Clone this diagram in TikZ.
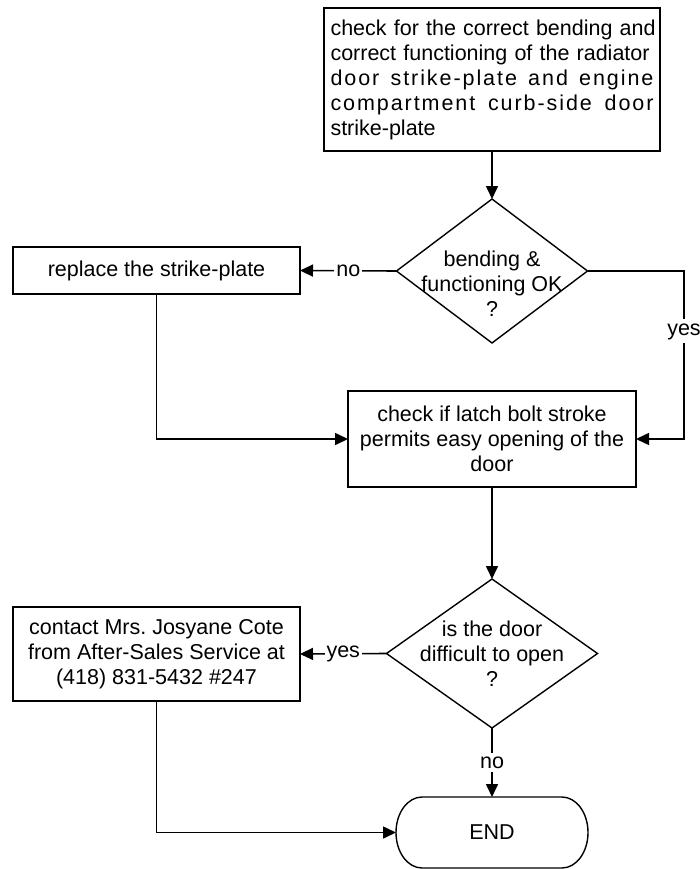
\documentclass[tikz,border=0pt]{standalone}
\usepackage{fontspec}
\setmainfont{Liberation Sans}
\usetikzlibrary{shapes.geometric,arrows.meta}
\frenchspacing

\begin{document}
\begin{tikzpicture}[x=1pt,y=-1pt,
  box/.style={draw, line width=1.8pt, inner sep=0pt, outer sep=0pt, align=center, font=\fontsize{21.5}{25}\selectfont},
  dia/.style={draw, diamond, line width=1.4pt, inner sep=0pt, outer sep=0pt},
  txt/.style={font=\fontsize{21.5}{25}\selectfont, align=center},
  conn/.style={line width=1.6pt},
  arr/.style={conn, -{Triangle[length=13pt,width=12pt]}},
  lbl/.style={font=\fontsize{21.5}{25}\selectfont, fill=white, inner xsep=2pt, inner ysep=4pt}
]
\useasboundingbox (0,0) rectangle (699,869);

\node[box, minimum width=336pt, minimum height=143pt, text width=323pt, align=left] (top) at (492,79.5)
  {\makebox[323pt][s]{check for the correct bending and}\\
   \makebox[323pt][s]{correct functioning of the radiator}\\
   \makebox[323pt][l]{\addfontfeature{LetterSpace=9}door\hfill strike-plate\hfill and\hfill engine}\\
   \makebox[323pt][l]{\addfontfeature{LetterSpace=9}compartment\hfill curb-side\hfill door}\\
   strike-plate};

\node[dia, minimum width=191pt, minimum height=144pt] (d1) at (492,271) {};
\node[txt] (d1t) at (492,284) {bending \&\\functioning OK\\?};

\node[box, minimum width=287pt, minimum height=47pt] (r1) at (156.5,270.5) {replace the strike-plate};

\node[box, minimum width=288pt, minimum height=96pt] (b2) at (492,439)
  {check if latch bolt stroke\\permits easy opening of the\\door};

\node[dia, minimum width=211pt, minimum height=149pt] (d2) at (492,653.5) {};
\node[txt] (d2t) at (492,653.5) {is the door\\difficult to open\\?};

\node[box, minimum width=287pt, minimum height=94pt] (ct) at (156.5,654)
  {contact Mrs. Josyane Cote\\from After-Sales Service at\\(418) 831-5432 \#247};

\node[txt, minimum width=192pt, minimum height=71pt, inner sep=0pt, outer sep=0pt] (end) at (492,832.5) {END};
\draw[line width=1.4pt] ([xshift=26pt]end.north west) -- ([xshift=-26pt]end.north east)
  arc[start angle=90, end angle=-90, x radius=26pt, y radius=35.5pt]
  -- ([xshift=26pt]end.south west)
  arc[start angle=270, end angle=90, x radius=26pt, y radius=35.5pt] -- cycle;

\coordinate (c1) at (684,271);
\coordinate (c2) at (684,439);

\draw[arr] (top.south) -- (d1.north);
\draw[arr] (d1.west) -- node[lbl]{no} (r1.east);
\draw[arr] (d1.east) -- (c1) -- node[lbl, pos=0.36]{yes} (c2) -- (b2.east);
\draw[arr] (r1.south) |- (b2.west);
\draw[arr] (b2.south) -- (d2.north);
\draw[arr] (d2.west) -- node[lbl]{yes} (ct.east);
\draw[arr] (d2.south) -- node[lbl]{no} (end.north);
\draw[arr] (ct.south) |- (end.west);
\end{tikzpicture}
\end{document}
